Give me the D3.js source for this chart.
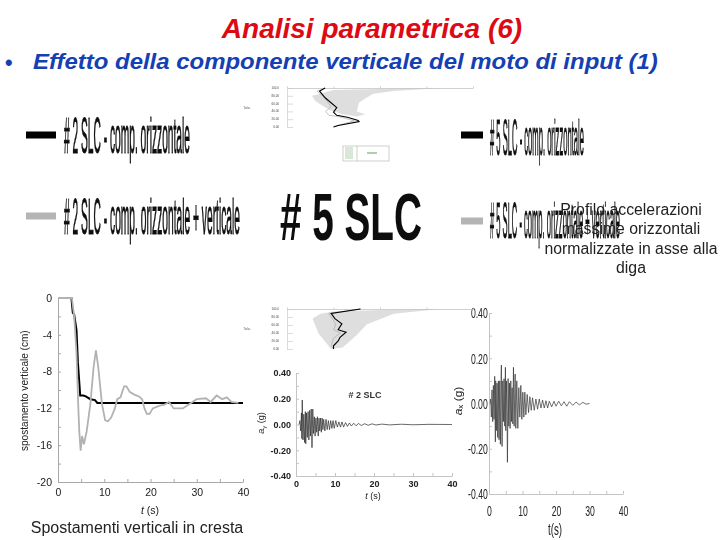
<!DOCTYPE html>
<html><head><meta charset="utf-8">
<script src="https://cdnjs.cloudflare.com/ajax/libs/d3/7.8.5/d3.min.js"></script>
<style>html,body{margin:0;padding:0;background:#fff}svg{display:block}text{font-family:"Liberation Sans",Arial,sans-serif}</style>
</head><body><script>
const titleText = "Analisi parametrica (6)";
const subtitleText = "Effetto della componente verticale del moto di input (1)";
const legendLabels = ["# 2 SLC - comp. orizzontale","# 2 SLC - comp. orizzontale + verticale","# 5 SLC - comp. orizzontale","# 5 SLC - comp. orizzontale + verticale"];
const bigLabel = "# 5 SLC";
const noteLines = ["Profilo accelerazioni","massime orizzontali","normalizzate in asse alla","diga"];
const captionText = "Spostamenti verticali in cresta";

const dispTicks = [0,-4,-8,-12,-16,-20];
const timeTicks = [0,10,20,30,40];
const accTicks = [0.4,0.2,0,-0.2,-0.4];

const blackT = [0,2.9,3.2,3.5,4,4.3,4.8,5.5,6,7,8,8.5,40];
const blackD = [0,0,-1.6,-1.8,-3.5,-7,-10.6,-10.6,-10.7,-11,-11.1,-11.4,-11.4];
const greyT = [0,3,3.5,4,4.4,4.6,4.9,5.2,5.6,6.2,7,7.7,8.2,8.7,9.5,10.2,10.8,11.5,12.3,12.8,13.5,14.3,14.8,15.5,16.5,17.5,18.2,18.7,19.2,19.8,20.5,22,23,24,25,27,28.5,30,32,33,34.3,35.5,36.5,37.5,39];
const greyD = [0,0,-2,-6,-12,-14.5,-16.6,-15,-15.9,-14.5,-11.5,-7.5,-5.7,-7.5,-11.5,-13.3,-13.4,-13,-12,-11,-10.8,-9.6,-9.6,-10.2,-10.5,-10.7,-11,-12,-12.6,-12.6,-12,-11.7,-11.6,-11.3,-12,-12,-11.5,-11,-10.9,-11.3,-10.6,-11,-10.8,-11.3,-11.4];

const ayT = [0.8,1,1.2,1.4,1.5,1.6,1.8,2,2.2,2.4,2.5,2.7,2.9,3.1,3.3,3.5,3.7,3.9,4.1,4.3,4.5,4.7,4.9,5.1,5.3,5.5,5.7,5.9,6.1,6.3,6.5,6.7,6.9,7.1,7.4,7.7,8,8.3,8.6,8.9,9.2,9.5,9.8,10.2,10.6,11,11.4,11.8,12.2,12.7,13.2,13.7,14.2,14.8,15.4,16,16.8,17.6,18.5,19.5,20.5,22,24,27,30,34,40];
const ayA = [0,0.03,-0.05,0.09,-0.11,0.19,-0.12,0.08,-0.14,0.1,-0.15,0.09,-0.1,0.1,-0.12,0.11,-0.09,0.12,-0.18,0.12,-0.07,0.06,-0.09,0.05,-0.06,0.06,-0.09,0.05,-0.05,0.05,-0.06,0.05,-0.04,0.04,-0.05,0.04,-0.04,0.03,-0.04,0.03,-0.03,0.03,-0.03,0.03,-0.02,0.02,-0.02,0.02,-0.02,0.015,-0.015,0.012,-0.012,0.01,-0.01,0.008,-0.008,0.006,-0.006,0.005,-0.004,0.003,-0.003,0.002,-0.002,0.001,0];

const axT = [0.3,0.5,0.7,0.9,1.1,1.3,1.5,1.7,1.9,2,2.2,2.4,2.6,2.8,3,3.2,3.4,3.6,3.7,3.9,4.1,4.3,4.5,4.7,4.9,5,5.2,5.4,5.5,5.7,5.9,6.1,6.3,6.5,6.7,6.9,7.1,7.3,7.5,7.8,8,8.3,8.6,8.9,9.2,9.5,9.8,10.1,10.4,10.7,11,11.4,11.8,12.2,12.6,13,13.5,14,14.5,15,15.5,16,16.5,17,17.5,18,18.7,19.4,20,20.8,21.6,22.4,23.2,24,25,26,27,28,29,30];
const axA = [0,0.02,-0.06,0.06,-0.08,0.08,-0.07,0.12,-0.17,0.1,-0.12,0.09,-0.15,0.1,-0.16,0.1,-0.18,0.12,0.17,-0.19,0.1,-0.08,0.11,-0.1,0.16,-0.12,0.1,-0.09,-0.26,0.11,-0.1,0.09,-0.11,0.1,-0.08,0.07,-0.09,0.16,-0.1,0.13,-0.11,0.1,-0.11,0.07,-0.06,0.08,-0.07,0.05,-0.06,0.05,-0.05,0.04,-0.04,0.03,-0.03,0.025,-0.03,0.02,-0.025,0.02,-0.02,0.015,-0.02,0.012,-0.02,0.01,-0.015,0.01,-0.012,0.01,-0.01,0.008,-0.012,0.008,-0.008,0.006,-0.006,0.005,-0.003,0];

const prof1BandX = [3.36,2.2,1,0.85,0.54,0.6,0.72,0.93,1.2,1.5,1.68,1.5,1.55,1.85,2.3];
const prof1BandH = [100,98,95,90,80,68,58,43,33,27,33,40,63,85,92];
const prof1BlackX = [0.82,0.7,0.82,1.07,1,1.07,1.3,1.53,1.55,1.1,1.0];
const prof1BlackH = [100,92,75,50,38,30,25,17,14,4,0];
const prof1GreyX = [0.82,0.65,0.8,0.95,0.83,0.9,1.1,1.35,1.45,1.1,1.0];
const prof1GreyH = [100,92,76,52,40,30,27,19,16,4,0];
const prof2BandX = [3.28,2.2,1,0.72,0.55,0.68,0.95,1.2,1.5,1.72,2.3];
const prof2BandH = [100,98,94,88,76,38,0,4,35,62,88];
const prof2BlackX = [1.58,0.95,1.03,1.18,1.1,1.27,1.14,1.1,1,1];
const prof2BlackH = [100,89,76,63,48,42,29,20,8,0];
const prof2GreyX = [1.58,0.9,0.98,1.05,1,1.15,1.0,0.98,0.95,1];
const prof2GreyH = [100,89,75,62,48,40,27,19,8,0];
const profTicksX = [0,1,2,3,4];
const profTicksH = [0,20,40,60,80,100];
const profHeightLabels = ["0.00","20.00","40.00","60.00","80.00","100.0"];

const svg = d3.select("body").append("svg").attr("width",720).attr("height",540);
const F = "Liberation Sans";
const defs = svg.append("defs");
defs.append("filter").attr("id","soft").attr("x","-5%").attr("y","-5%").attr("width","110%").attr("height","110%")
 .append("feGaussianBlur").attr("stdDeviation",0.4);
const hyphen = f => d => f(d).replace("\u2212","-");

// fit a text to a given pixel width by scaling it horizontally, origin at (x,y)
function fit(sel,x,y,w,extra){
 sel.attr("x",0).attr("y",0);
 const len = sel.node().getComputedTextLength();
 sel.attr("text-anchor","start").attr("transform",`translate(${x},${y}) ${extra||""} scale(${w/len},1)`);
 return sel;
}

svg.append("text").attr("x",372).attr("y",38).attr("text-anchor","middle")
 .attr("font-size",28).attr("font-weight","bold").attr("font-style","italic").attr("fill","#dd0a14").text(titleText);
svg.append("text").attr("x",5).attr("y",70).attr("font-size",21.5).attr("font-weight","bold").attr("fill","#1440b4").text("•");
fit(svg.append("text").attr("font-size",21.5).attr("font-weight","bold").attr("font-style","italic").attr("fill","#1440b4").text(subtitleText),33,69,625);

// stretched legend
const leg = [
 {b:[26,56],by:135,c:"#000",tx:64,tl:126,base:153,i:0},
 {b:[26,56],by:216,c:"#b4b4b4",tx:64,tl:176,base:234,i:1},
 {b:[461,483],by:135,c:"#000",tx:490,tl:94,base:155,i:2},
 {b:[461,483],by:221,c:"#b4b4b4",tx:490,tl:130,base:238,i:3}
];
const soft = svg.append("g").attr("filter","url(#soft)");
soft.selectAll("rect.leg").data(leg).join("rect").attr("class","leg")
 .attr("x",d=>d.b[0]).attr("width",d=>d.b[1]-d.b[0]).attr("y",d=>d.by-3.5).attr("height",7).attr("fill",d=>d.c);
soft.selectAll("text.leg").data(leg).join("text").attr("class","leg")
 .attr("font-size",50).attr("fill","#111").attr("stroke","#111").attr("stroke-width",1).text(d=>legendLabels[d.i])
 .each(function(d){fit(d3.select(this),d.tx,d.base,d.tl);});
fit(soft.append("text").attr("font-size",66).attr("font-weight","bold").attr("fill","#111").text(bigLabel),280,240,142);

// axis helper
function axes(g,x,y,o){
 const gx = g.append("g").attr("transform",`translate(0,${y.range()[0]})`).call(d3.axisBottom(x).tickValues(o.xMinor).tickSize(-o.tick).tickSizeOuter(0).tickFormat(""));
 const gy = g.append("g").attr("transform",`translate(${x.range()[0]},0)`).call(d3.axisLeft(y).tickValues(o.yMinor).tickSize(-o.tick).tickSizeOuter(0).tickFormat(""));
 [gx,gy].forEach(s=>{s.selectAll("path,line").attr("stroke",o.color).attr("stroke-width",o.sw||1);});
 const lx = g.append("g").attr("transform",`translate(0,${y.range()[0]})`).call(d3.axisBottom(x).tickValues(o.xTicks).tickSize(0).tickPadding(o.padX).tickFormat(d3.format("d")));
 const ly = g.append("g").attr("transform",`translate(${x.range()[0]},0)`).call(d3.axisLeft(y).tickValues(o.yTicks).tickSize(0).tickPadding(o.padY).tickFormat(o.yFmt));
 [lx,ly].forEach(s=>{s.select("path").remove();s.selectAll("text").attr("font-family",F).attr("font-size",o.fs).attr("font-weight",o.fw||"normal").attr("fill",o.tc||"#222");});
 return {lx,ly};
}

// displacement
{
 const x=d3.scaleLinear().domain([0,40]).range([58,243]);
 const y=d3.scaleLinear().domain([-20,0]).range([482,298]);
 const g=soft.append("g");
 axes(g,x,y,{xMinor:[0,5,10,15,20,25,30,35,40],yMinor:[0,-2,-4,-6,-8,-10,-12,-14,-16,-18,-20],xTicks:timeTicks,yTicks:dispTicks,tick:3,color:"#a8a8a8",padX:7,padY:6,fs:10.5,yFmt:hyphen(d3.format("d"))});
 const ln=d3.line().x(d=>x(d[0])).y(d=>y(d[1]));
 g.append("path").attr("d",ln(blackT.map((t,i)=>[t,blackD[i]]))).attr("fill","none").attr("stroke","#000").attr("stroke-width",2);
 g.append("path").attr("d",ln(greyT.map((t,i)=>[t,greyD[i]]))).attr("fill","none").attr("stroke","#b2b2b2").attr("stroke-width",1.8);
 fit(g.append("text").attr("font-size",10).attr("fill","#222").text("spostamento verticale (cm)"),28,451,121,"rotate(-90)");
 const tl=g.append("text").attr("x",150).attr("y",514).attr("text-anchor","middle").attr("font-size",10.5).attr("fill","#222");
 tl.append("tspan").attr("font-style","italic").text("t"); tl.append("tspan").text(" (s)");
}

function accel(o){
 const x=d3.scaleLinear().domain([0,40]).range(o.xr);
 const y=d3.scaleLinear().domain([-0.4,0.4]).range(o.yr);
 const g=soft.append("g");
 const r=axes(g,x,y,{xMinor:[0,5,10,15,20,25,30,35,40],yMinor:[0.4,0.3,0.2,0.1,0,-0.1,-0.2,-0.3,-0.4],xTicks:timeTicks,yTicks:accTicks,tick:3,color:"#c4c4c4",padX:o.padX,padY:o.padY,fs:o.fs,fw:o.fw,yFmt:hyphen(d3.format(".2f"))});
 g.append("path").attr("d",d3.line().x((d,i)=>x(o.t[i])).y(d=>y(d))(o.a)).attr("fill","none").attr("stroke",o.stroke).attr("stroke-width",o.sw);
 return {g,r,x,y};
}
const a1=accel({xr:[296,452],yr:[476,373],t:ayT,a:ayA,padX:5,padY:5,fs:9,fw:"bold",stroke:"#2a2a2a",sw:0.7});
const a1lab=soft.append("text").attr("transform","translate(264,423) rotate(-90)").attr("text-anchor","middle").attr("font-size",9).attr("fill","#222");
a1lab.append("tspan").attr("font-style","italic").text("a"); a1lab.append("tspan").attr("font-size",6).attr("dy",1.5).text("y"); a1lab.append("tspan").attr("dy",-1.5).text(" (g)");
soft.append("text").attr("x",365).attr("y",398).attr("text-anchor","middle").attr("font-size",9).attr("font-weight","bold").attr("fill","#333").text("# 2 SLC");
const t1=soft.append("text").attr("x",373).attr("y",499).attr("text-anchor","middle").attr("font-size",9).attr("fill","#222");
t1.append("tspan").attr("font-style","italic").text("t"); t1.append("tspan").text(" (s)");

const a2=accel({xr:[489,623],yr:[494,313],t:axT,a:axA,padX:11,padY:2,fs:14,stroke:"#333",sw:0.7});
a2.r.ly.selectAll("text").attr("transform","scale(0.62,1)").attr("dy","0.35em");
a2.r.lx.selectAll("text").attr("transform","scale(0.62,1.05)");
const a2lab=soft.append("text").attr("transform","translate(462,401) rotate(-90) scale(1,0.85)").attr("text-anchor","middle").attr("font-size",12).attr("fill","#222");
a2lab.append("tspan").attr("font-style","italic").text("a"); a2lab.append("tspan").attr("font-size",8).attr("dy",1.5).text("x"); a2lab.append("tspan").attr("dy",-1.5).text(" (g)");
soft.append("text").attr("transform","translate(555,535) scale(0.7,1.15)").attr("text-anchor","middle").attr("font-size",14).attr("fill","#222").text("t(s)");

// profiles
function profile(top,bottom,bx,bh,kx,kh,gx,gh){
 const x=d3.scaleLinear().domain([0,4]).range([287,473]);
 const y=d3.scaleLinear().domain([0,100]).range([bottom,top]);
 const g=soft.append("g");
 g.append("path").attr("d",d3.line().x(d=>x(d)).y((d,i)=>y(bh[i])).curve(d3.curveLinearClosed)(bx)).attr("fill","#dedede");
 g.append("g").attr("transform",`translate(0,${top})`).call(d3.axisTop(x).tickValues(profTicksX).tickSize(1.5).tickSizeOuter(0).tickFormat("")).call(s=>s.selectAll("path,line").attr("stroke","#bbb").attr("stroke-width",0.7));
 g.append("g").attr("transform","translate(287,0)").call(d3.axisRight(y).tickValues(profTicksH).tickSize(6).tickSizeOuter(0).tickFormat("")).call(s=>s.selectAll("path,line").attr("stroke","#ccc").attr("stroke-width",0.7));
 g.append("path").attr("d",d3.line().x(d=>x(d)).y((d,i)=>y(gh[i]))(gx)).attr("fill","none").attr("stroke","#aaa").attr("stroke-width",0.7);
 g.append("path").attr("d",d3.line().x(d=>x(d)).y((d,i)=>y(kh[i]))(kx)).attr("fill","none").attr("stroke","#000").attr("stroke-width",1.1);
 g.selectAll("text.h").data(profTicksH).join("text").attr("class","h").attr("x",279).attr("y",d=>y(d)+1).attr("text-anchor","end").attr("font-size",3).attr("fill","#444").text((d,i)=>profHeightLabels[i]);
 g.append("text").attr("x",247).attr("y",y(50)+1).attr("text-anchor","middle").attr("font-size",3).attr("fill","#666").text("Tailw.");
}
profile(88,127,prof1BandX,prof1BandH,prof1BlackX,prof1BlackH,prof1GreyX,prof1GreyH);
profile(309,349,prof2BandX,prof2BandH,prof2BlackX,prof2BlackH,prof2GreyX,prof2GreyH);

// small inset legend box
const inset=soft.append("g");
inset.append("rect").attr("x",343).attr("y",146).attr("width",46).attr("height",15).attr("fill","#fff").attr("stroke","#bbb").attr("stroke-width",0.7);
inset.append("line").attr("x1",357).attr("x2",357).attr("y1",146).attr("y2",161).attr("stroke","#bbb").attr("stroke-width",0.7);
inset.append("line").attr("x1",367).attr("x2",377).attr("y1",153).attr("y2",153).attr("stroke","#5aa05a");
inset.selectAll("line.t").data([148,150,152,154,156,158]).join("line").attr("class","t").attr("x1",345).attr("x2",353).attr("y1",d=>d).attr("y2",d=>d).attr("stroke","#7cb07c").attr("stroke-width",0.6);

// note and caption sit on top
svg.append("g").selectAll("text").data(noteLines).join("text").attr("x",631).attr("y",(d,i)=>215+i*19.3)
 .attr("text-anchor","middle").attr("font-size",15.8).attr("fill","#222").text(d=>d);
svg.append("text").attr("x",137).attr("y",533).attr("text-anchor","middle").attr("font-size",16).attr("fill","#222").text(captionText);
</script></body></html>
